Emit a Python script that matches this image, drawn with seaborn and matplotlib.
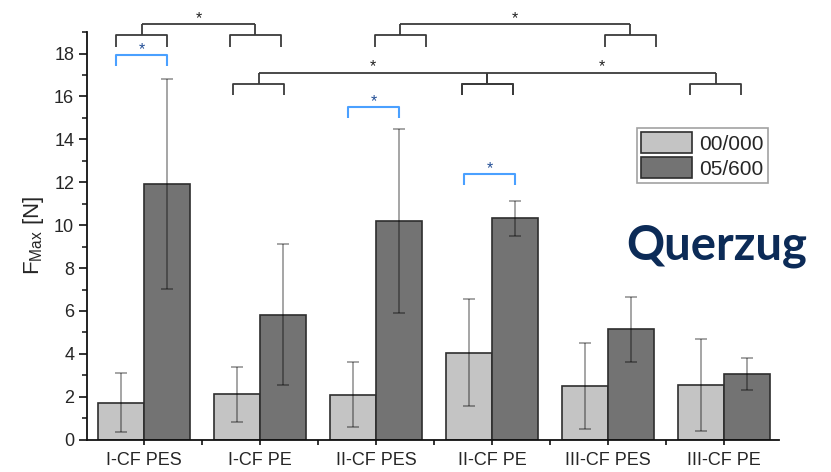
import matplotlib
matplotlib.use("Agg")
import matplotlib.pyplot as plt
import numpy as np
import pandas as pd
import seaborn as sns
from matplotlib.patches import Patch

# Tensile force (cross direction) per fabric variant, two treatment levels
categories = ["I-CF PES", "I-CF PE", "II-CF PES", "II-CF PE", "III-CF PES", "III-CF PE"]
groups = ["00/000", "05/600"]
mean_000 = [1.72, 2.12, 2.10, 4.05, 2.51, 2.56]
sd_000 = [1.37, 1.28, 1.50, 2.50, 2.01, 2.14]
mean_600 = [11.91, 5.83, 10.19, 10.32, 5.14, 3.07]
sd_600 = [4.90, 3.29, 4.29, 0.82, 1.53, 0.73]

# Significance brackets within one variant (00/000 vs 05/600)
within_idx = [0, 2, 3]
within_y = [17.92, 15.50, 12.37]

# Significance brackets between variants: (sub-bracket spans, bracket y)
between_top = [[(-0.24, 0.20), (0.74, 1.18)], [(1.99, 2.43), (3.97, 4.41)]]
between_mid = [[(0.77, 1.21), (2.74, 3.18)], [(2.74, 3.18), (4.71, 5.15)]]

sns.set_theme(style="white")
plt.rcParams["font.family"] = ["Liberation Sans", "DejaVu Sans"]
plt.rcParams["mathtext.fontset"] = "custom"
plt.rcParams["mathtext.rm"] = "Liberation Sans"
plt.rcParams["mathtext.it"] = "Liberation Sans:italic"
plt.rcParams["mathtext.default"] = "regular"

df = pd.DataFrame({
    "Variante": categories * 2,
    "Gruppe": [groups[0]] * len(categories) + [groups[1]] * len(categories),
    "F": mean_000 + mean_600,
})
errs = {groups[0]: sd_000, groups[1]: sd_600}

fig = plt.figure(figsize=(8.31, 4.72), dpi=100)
ax = fig.add_axes([86.7 / 831, 1 - 439.7 / 472, (779 - 86.7) / 831, (439.7 - 32.1) / 472])

pal = {groups[0]: "#c4c4c4", groups[1]: "#737373"}
sns.barplot(data=df, x="Variante", y="F", hue="Gruppe", hue_order=groups,
            order=categories, palette=pal, width=0.8, edgecolor="#2e2e2e",
            linewidth=1.2, saturation=1, errorbar=None, ax=ax, legend=False)

for cont, g in zip(ax.containers, groups):
    xs = [p.get_x() + p.get_width() / 2 for p in cont.patches]
    ys = [p.get_height() for p in cont.patches]
    ax.errorbar(xs, ys, yerr=errs[g], fmt="none", ecolor=(0, 0, 0, 0.45),
                elinewidth=1.1, capsize=4.5, capthick=1.1, zorder=5)

ax.set_xlim(-0.494, 5.474)
ax.set_ylim(0, 19)
ax.set_yticks(np.arange(0, 19, 2))
ax.set_yticks(np.arange(1, 20, 2), minor=True)
ax.set_xticks(np.arange(0.5, 5.0, 1.0), minor=True)
for s in ["top", "right"]:
    ax.spines[s].set_visible(False)
for s in ["left", "bottom"]:
    ax.spines[s].set_color("#111111")
    ax.spines[s].set_linewidth(1.3)
ax.tick_params(axis="y", which="major", direction="out", length=6, width=1.2,
               color="#111111", labelsize=13, pad=3, left=True)
ax.tick_params(axis="y", which="minor", direction="out", length=3.5, width=1.1,
               color="#111111", left=True)
ax.tick_params(axis="x", which="both", direction="out", length=3.5, width=1.2,
               color="#111111", labelsize=13, pad=5, bottom=True)
ax.set_xlabel("")
ax.set_ylabel(r"F$_{\mathrm{Max}}$ [N]", fontsize=16, labelpad=6)

line_kw = dict(color="#3a3a3a", lw=1.3, clip_on=False, solid_capstyle="butt")
blue_kw = dict(color="#4aa0ff", lw=1.5, clip_on=False, solid_capstyle="butt")


def bracket(x0, x1, y, leg, kw):
    ax.plot([x0, x0, x1, x1], [y - leg, y, y, y - leg], **kw)


for i, y in zip(within_idx, within_y):
    bracket(i - 0.24, i + 0.20, y, 0.52, blue_kw)
    ax.text(i - 0.02, y - 0.08, "*", ha="center", va="bottom", fontsize=11.5,
            color="#234f96", clip_on=False)


def nested(pairs, y, leg, rise):
    centers = []
    for a, b in pairs:
        bracket(a, b, y, leg, line_kw)
        c = (a + b) / 2
        ax.plot([c, c], [y, y + rise], **line_kw)
        centers.append(c)
    ax.plot([centers[0], centers[-1]], [y + rise, y + rise], **line_kw)
    ax.text((centers[0] + centers[-1]) / 2, y + rise - 0.08, "*", ha="center",
            va="bottom", fontsize=11.5, color="#222222", clip_on=False)


for pairs in between_top:
    nested(pairs, 18.87, 0.55, 0.50)
for pairs in between_mid:
    nested(pairs, 16.58, 0.51, 0.53)

handles = [Patch(facecolor=pal[g], edgecolor="#2e2e2e", linewidth=1.2) for g in groups]
leg = fig.legend(handles, groups, loc="upper left",
                 bbox_to_anchor=(636.7 / 831, 1 - 128 / 472), fontsize=15,
                 handlelength=2.45, handleheight=1.15, handletextpad=0.35,
                 labelspacing=0.18, borderpad=0.2, borderaxespad=0,
                 frameon=True, fancybox=False)
leg.get_frame().set_edgecolor("#8a8a8a")
leg.get_frame().set_linewidth(1.2)

fig.text(626 / 831, 1 - 260 / 472, "Querzug", fontsize=34, fontweight="bold",
         family=["Lato", "DejaVu Sans"], color="#0c2b57", ha="left",
         va="baseline")

fig.savefig("out.png", dpi=100)
